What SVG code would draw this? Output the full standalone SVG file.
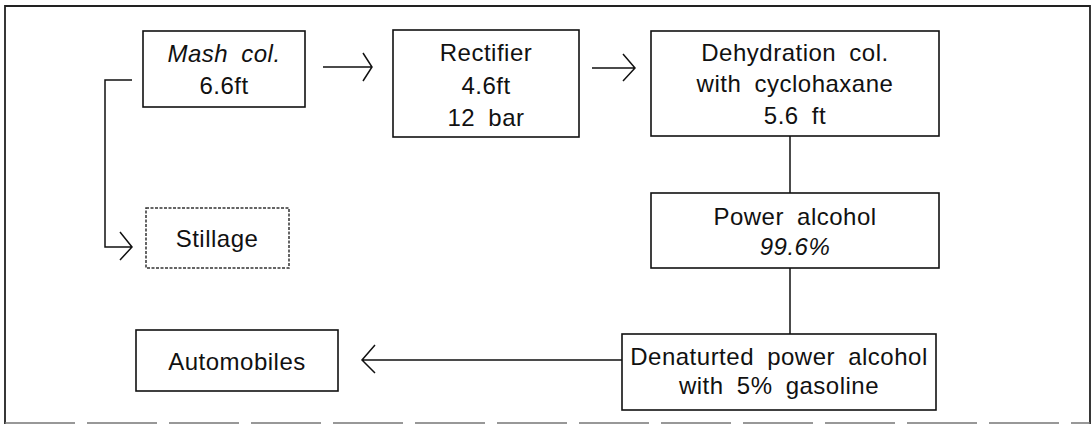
<svg xmlns="http://www.w3.org/2000/svg" width="1092" height="425" viewBox="0 0 1092 425">
<style>
.box{fill:#fff;stroke:#111;stroke-width:1.6}
.dot{fill:#fff;stroke:#333;stroke-width:1.5;stroke-dasharray:3 1.5}
.t{font-family:"Liberation Sans",Arial,sans-serif;font-size:24px;fill:#111;text-anchor:middle;letter-spacing:0.5px;word-spacing:6px}
.i{font-style:italic}
.ln{fill:none;stroke:#111;stroke-width:1.5}
.frame{fill:none;stroke:#222;stroke-width:1.8}
</style>
<g id="frame">
<path class="frame" d="M5,424 L5,6 L1090,6 L1090,424"/>
<line x1="5" y1="423" x2="1090" y2="423" stroke="#777" stroke-width="1.5" stroke-dasharray="70 12"/>
</g>
<g id="connectors">
<path class="ln" d="M323,67 H372 M363,53 L372,67 L363,81"/>
<path class="ln" d="M592,68 H635 M623,54 L635,68 L623,81"/>
<path class="ln" d="M790,136 V193"/>
<path class="ln" d="M790,268 V334"/>
<path class="ln" d="M622,360 H362 M375,345 L362,360 L375,373"/>
<path class="ln" d="M132,80 H105 V247 H132 M120,232 L132,247 L120,260"/>
</g>
<g id="mash">
<rect class="box" x="143" y="31" width="162" height="76"/>
<text class="t i" x="224" y="62">Mash col.</text>
<text class="t" x="224" y="94">6.6ft</text>
</g>
<g id="rectifier">
<rect class="box" x="393" y="30" width="186" height="107"/>
<text class="t" x="486" y="61">Rectifier</text>
<text class="t" x="486" y="94">4.6ft</text>
<text class="t" x="486" y="126">12 bar</text>
</g>
<g id="dehydration">
<rect class="box" x="651" y="31" width="288" height="105"/>
<text class="t" x="795" y="61">Dehydration col.</text>
<text class="t" x="795" y="92">with cyclohaxane</text>
<text class="t" x="795" y="124">5.6 ft</text>
</g>
<g id="power">
<rect class="box" x="651" y="193" width="288" height="75"/>
<text class="t" x="795" y="225">Power alcohol</text>
<text class="t i" x="795" y="255">99.6%</text>
</g>
<g id="denatured">
<rect class="box" x="622" y="334" width="314" height="76"/>
<text class="t" x="779" y="365">Denaturted power alcohol</text>
<text class="t" x="779" y="394">with 5% gasoline</text>
</g>
<g id="automobiles">
<rect class="box" x="136" y="330" width="202" height="61"/>
<text class="t" x="237" y="370">Automobiles</text>
</g>
<g id="stillage">
<rect class="dot" x="146" y="208" width="143" height="60"/>
<text class="t" x="217" y="247">Stillage</text>
</g>
</svg>
